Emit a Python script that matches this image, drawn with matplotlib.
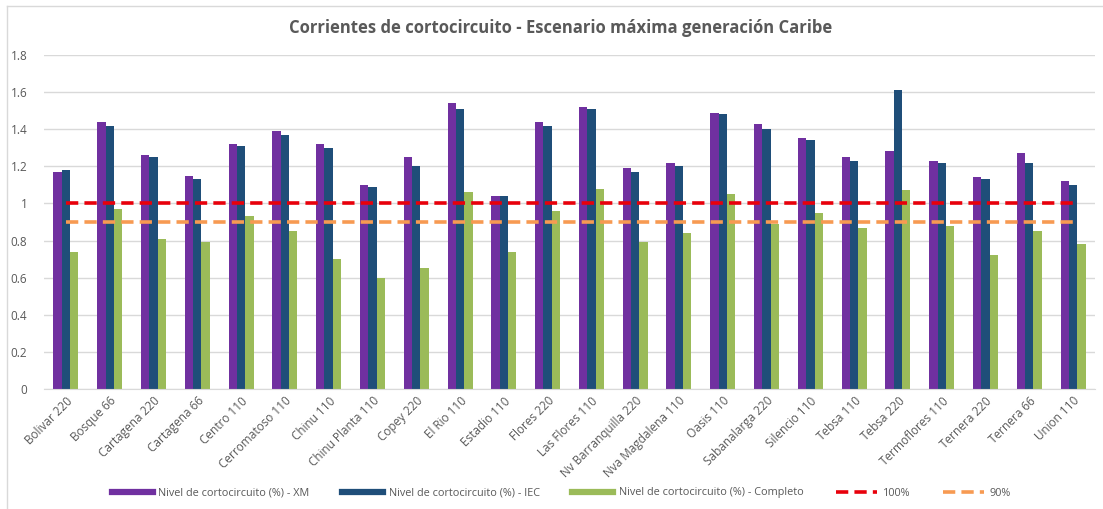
import matplotlib.pyplot as plt
import numpy as np
from matplotlib.lines import Line2D

plt.rcParams['font.family'] = ['Open Sans', 'DejaVu Sans']

subestaciones = ["Bolivar 220", "Bosque 66", "Cartagena 220", "Cartagena 66", "Centro 110",
                 "Cerromatoso 110", "Chinu 110", "Chinu Planta 110", "Copey 220", "El Rio 110",
                 "Estadio 110", "Flores 220", "Las Flores 110", "Nv Barranquilla 220",
                 "Nva Magdalena 110", "Oasis 110", "Sabanalarga 220", "Silencio 110",
                 "Tebsa 110", "Tebsa 220", "Termoflores 110", "Ternera 220", "Ternera 66",
                 "Union 110"]
nivel_xm = [1.17, 1.44, 1.26, 1.15, 1.32, 1.39, 1.32, 1.10, 1.25, 1.54, 1.04, 1.44,
            1.52, 1.19, 1.22, 1.49, 1.43, 1.35, 1.25, 1.28, 1.23, 1.14, 1.27, 1.12]
nivel_iec = [1.18, 1.42, 1.25, 1.13, 1.31, 1.37, 1.30, 1.09, 1.20, 1.51, 1.04, 1.42,
             1.51, 1.17, 1.20, 1.48, 1.40, 1.34, 1.23, 1.61, 1.22, 1.13, 1.22, 1.10]
nivel_completo = [0.74, 0.97, 0.81, 0.79, 0.93, 0.85, 0.70, 0.60, 0.65, 1.06, 0.74, 0.96,
                  1.08, 0.79, 0.84, 1.05, 0.89, 0.95, 0.87, 1.07, 0.88, 0.72, 0.85, 0.78]
limite_100 = 1.0
limite_90 = 0.9

c_xm = "#7030A0"
c_iec = "#1F4E79"
c_comp = "#9BBB59"
c_100 = "#E8000B"
c_90 = "#F79A52"
gris = "#595959"
guion = (0, (3.4, 1.7))

fig = plt.figure(figsize=(11.03, 5.09), dpi=100)
ax = fig.add_axes([44 / 1103, 1 - 389 / 509, (1095 - 44) / 1103, (389 - 55) / 509])

x = np.arange(len(subestaciones))
w = 0.19
ax.bar(x - w, nivel_xm, w, color=c_xm, zorder=2)
ax.bar(x, nivel_iec, w, color=c_iec, zorder=2)
ax.bar(x + w, nivel_completo, w, color=c_comp, zorder=2)
ax.plot(x, [limite_100] * len(x), color=c_100, lw=2.6, ls=guion, zorder=3)
ax.plot(x, [limite_90] * len(x), color=c_90, lw=2.6, ls=guion, zorder=3)

ax.set_xlim(-0.5, len(x) - 0.5)
ax.set_ylim(0, 1.8)
ax.set_yticks(np.arange(0, 1.81, 0.2))
ax.set_yticklabels(["0", "0.2", "0.4", "0.6", "0.8", "1", "1.2", "1.4", "1.6", "1.8"])
ax.set_xticks(x)
ax.set_xticklabels(subestaciones, rotation=45, ha="right", rotation_mode="anchor")
ax.tick_params(axis="both", length=0, colors=gris, labelsize=8.5)
ax.tick_params(axis="y", pad=12)
ax.tick_params(axis="x", pad=4)
ax.grid(axis="y", color="#D9D9D9", lw=1)
ax.set_axisbelow(True)
for s in ["top", "right", "left"]:
    ax.spines[s].set_visible(False)
ax.spines["bottom"].set_color("#D9D9D9")

fig.text(0.508, 1 - 28 / 509, "Corrientes de cortocircuito - Escenario máxima generación Caribe",
         ha="center", va="center", fontsize=12, fontweight="bold", color=gris)

handles = [Line2D([], [], color=c_xm, lw=4.5),
           Line2D([], [], color=c_iec, lw=4.5),
           Line2D([], [], color=c_comp, lw=4.5),
           Line2D([], [], color=c_100, lw=2.6, ls=guion),
           Line2D([], [], color=c_90, lw=2.6, ls=guion)]
labels = ["Nivel de cortocircuito (%) - XM", "Nivel de cortocircuito (%) - IEC",
          "Nivel de cortocircuito (%) - Completo", "100%", "90%"]
fig.legend(handles, labels, loc="center", bbox_to_anchor=(561 / 1103, 1 - 493 / 509),
           ncol=5, frameon=False, fontsize=7.8, handlelength=3.8, columnspacing=3.0,
           handletextpad=0.5, labelcolor=gris)

# marco del grafico
fig.add_artist(Line2D([7 / 1103, 7 / 1103], [0, 1 - 6 / 509], color="#D9D9D9", lw=1))
fig.add_artist(Line2D([7 / 1103, 1], [1 - 6 / 509, 1 - 6 / 509], color="#D9D9D9", lw=1))

fig.savefig("out.png", dpi=100)
